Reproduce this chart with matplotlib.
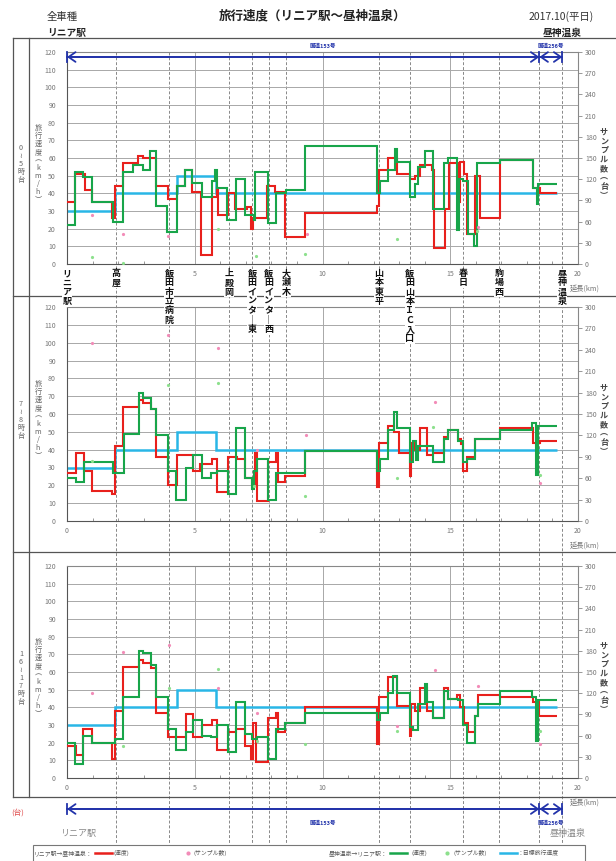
import numpy as np
import matplotlib
matplotlib.use('Agg')
import matplotlib.pyplot as plt
from matplotlib.lines import Line2D
from matplotlib.patches import Rectangle
from matplotlib.transforms import blended_transform_factory

plt.rcParams['font.family'] = ['Noto Sans CJK JP', 'DejaVu Sans']

# 交差点・バス停（km）
station_km = [0, 1.92, 4.00, 6.35, 7.25, 7.89, 8.57, 12.21, 13.42, 15.51, 16.92, 19.39]
station_names = ['リニア駅', '高屋', '飯田市立病院', '上殿岡', '飯田インター東', '飯田インター西',
                 '大瀬木', '山本東平', '飯田山本ＩＣ入口', '春日', '駒場西', '昼神温泉']
route_km = [0, 18.49, 19.39]
route_names = ['国道153号', '国道256号']
route_label_km = [10.0, 18.94]
hour_labels = ['0〜5時台', '7〜8時台', '16〜17時台']

# 目標旅行速度
target_edges = [0, 1.88, 4.29, 5.83, 19.17]
target_vals = [30, 40, 50, 40]

# リニア駅→昼神温泉 (速度)
red1_edges = [0, 0.31, 0.72, 0.97, 1.75, 1.88, 2.20, 2.79, 2.99, 3.48, 3.97, 4.29, 4.62, 4.88, 5.24, 5.66,
              5.86, 5.92, 6.31, 6.57, 7.03, 7.19, 7.27, 7.81, 8.14, 8.53, 9.32, 12.12, 12.21, 12.58, 12.90,
              13.42, 13.62, 13.82, 14.27, 14.36, 14.79, 14.96, 15.32, 15.38, 15.54, 15.64, 15.97, 16.16,
              16.95, 18.25, 18.51, 19.17]
red1_vals = [35, 51, 42, 35, 26, 44, 57, 61, 60, 44, 37, 44, 53, 41, 5, 38, 43, 28, 40, 31, 32, 20, 26, 44,
             41, 15, 29, 33, 53, 60, 51, 48, 50, 56, 53, 9, 31, 57, 35, 58, 51, 17, 50, 26, 59, 43, 40]
red2_edges = [0, 0.35, 0.67, 0.97, 1.75, 1.88, 2.20, 2.83, 2.96, 3.27, 3.47, 3.97, 4.29, 4.92, 5.20, 5.66,
              5.86, 6.31, 6.64, 6.97, 7.23, 7.37, 7.42, 7.88, 8.18, 8.27, 8.53, 9.32, 12.15, 12.22, 12.58,
              12.80, 12.99, 13.42, 13.46, 13.62, 13.82, 14.08, 14.34, 14.76, 14.90, 15.29, 15.41, 15.51,
              15.64, 15.97, 16.95, 18.25, 18.51, 19.17]
red2_vals = [27, 38, 28, 17, 15, 42, 64, 68, 66, 63, 36, 20, 37, 28, 32, 35, 16, 36, 35, 24, 21, 38, 11, 33,
             38, 22, 25, 39, 19, 44, 53, 50, 38, 25, 44, 40, 52, 37, 38, 47, 51, 46, 43, 28, 36, 46, 52,
             44, 45]
red3_edges = [0, 0.35, 0.64, 0.97, 1.75, 1.88, 2.20, 2.83, 2.96, 3.27, 3.48, 3.94, 4.64, 4.92, 5.27, 5.66,
              5.86, 6.31, 6.60, 6.97, 7.19, 7.27, 7.40, 7.88, 8.18, 8.27, 8.53, 9.32, 12.15, 12.21, 12.58,
              12.80, 12.93, 13.42, 13.46, 13.62, 13.82, 14.10, 14.34, 14.76, 14.92, 15.25, 15.38, 15.54,
              15.71, 15.97, 16.10, 16.95, 18.25, 18.49, 19.17]
red3_vals = [18, 13, 28, 20, 11, 38, 63, 67, 65, 62, 37, 23, 36, 23, 30, 33, 16, 26, 28, 18, 11, 31, 9, 34,
             37, 26, 31, 40, 19, 46, 57, 57, 41, 24, 42, 38, 51, 38, 34, 51, 45, 47, 40, 31, 26, 35, 47,
             46, 43, 35]

# 昼神温泉→リニア駅 (速度)
green1_edges = [0, 0.31, 0.64, 0.97, 1.81, 2.20, 2.60, 2.96, 3.25, 3.48, 3.90, 4.29, 4.62, 4.88, 5.27,
                5.66, 5.79, 5.86, 6.25, 6.60, 6.97, 7.30, 7.36, 7.85, 8.18, 8.57, 9.31, 12.15, 12.25, 12.58,
                12.84, 12.93, 13.42, 13.62, 13.75, 14.01, 14.34, 14.76, 14.90, 15.28, 15.33, 15.51, 15.71,
                15.93, 16.03, 16.95, 18.25, 18.38, 18.45, 19.17]
green1_vals = [22, 52, 49, 35, 24, 52, 56, 53, 64, 33, 18, 44, 53, 46, 38, 47, 53, 43, 25, 48, 28, 25, 52,
               23, 40, 42, 67, 40, 47, 53, 65, 58, 38, 45, 55, 64, 31, 57, 60, 19, 48, 47, 17, 10, 57, 59,
               43, 34, 45]
green2_edges = [0, 0.35, 0.67, 1.81, 2.23, 2.83, 2.96, 3.27, 3.48, 3.94, 4.26, 4.64, 4.92, 5.27, 5.62,
                5.86, 6.31, 6.60, 6.97, 7.23, 7.30, 7.42, 7.88, 8.18, 8.53, 9.32, 12.15, 12.25, 12.58, 12.80,
                12.93, 13.42, 13.53, 13.66, 13.75, 14.34, 14.76, 14.90, 15.29, 15.51, 15.64, 15.97, 16.95,
                18.19, 18.36, 18.45, 19.17]
green2_vals = [24, 22, 33, 27, 49, 72, 69, 63, 48, 28, 12, 30, 37, 24, 27, 28, 15, 52, 24, 18, 28, 35, 12,
               27, 27, 39, 28, 35, 51, 61, 52, 33, 45, 34, 42, 33, 46, 51, 45, 33, 35, 46, 51, 55, 26, 53]
green3_edges = [0, 0.31, 0.64, 0.97, 1.88, 2.20, 2.83, 2.96, 3.29, 3.48, 3.94, 4.26, 4.64, 4.92, 5.27,
                5.62, 5.86, 6.31, 6.60, 6.97, 7.23, 7.42, 7.88, 8.18, 8.53, 9.32, 12.15, 12.25, 12.58, 12.77,
                12.93, 13.42, 13.55, 13.75, 14.01, 14.08, 14.34, 14.76, 14.92, 15.32, 15.51, 15.64, 15.97,
                16.10, 16.95, 18.19, 18.36, 18.45, 19.17]
green3_vals = [20, 8, 24, 20, 22, 46, 72, 71, 64, 46, 28, 16, 26, 33, 24, 23, 30, 15, 43, 25, 22, 23, 11,
               28, 31, 37, 33, 37, 48, 58, 48, 29, 27, 42, 53, 43, 34, 49, 45, 44, 30, 20, 35, 42, 49, 46,
               21, 44]

# サンプル数（台）
pink1_km = [0.97, 2.20, 3.97, 9.40, 16.10]
pink1_n = [70, 43, 39, 42, 53]
pink2_km = [0.97, 3.97, 5.92, 7.42, 9.36, 14.40, 18.51]
pink2_n = [250, 261, 243, 100, 120, 167, 53]
pink3_km = [0.97, 2.18, 3.99, 5.92, 7.42, 12.93, 14.40, 16.10, 18.51]
pink3_n = [120, 178, 188, 128, 92, 73, 153, 130, 48]
lg1_km = [0.97, 2.18, 5.92, 7.40, 9.32, 12.90, 16.03]
lg1_n = [10, 2, 50, 11, 14, 36, 46]
lg2_km = [0.97, 3.97, 5.92, 7.30, 9.32, 12.93, 14.34, 18.51]
lg2_n = [84, 190, 193, 49, 35, 60, 132, 64]
lg3_km = [2.18, 3.99, 5.92, 7.42, 9.32, 12.93, 18.51]
lg3_n = [45, 127, 154, 52, 48, 67, 66]

red_edges = [red1_edges, red2_edges, red3_edges]
red_vals = [red1_vals, red2_vals, red3_vals]
green_edges = [green1_edges, green2_edges, green3_edges]
green_vals = [green1_vals, green2_vals, green3_vals]
pink_km = [pink1_km, pink2_km, pink3_km]
pink_n = [pink1_n, pink2_n, pink3_n]
lg_km = [lg1_km, lg2_km, lg3_km]
lg_n = [lg1_n, lg2_n, lg3_n]

RED = '#e8201c'
GREEN = '#18a54a'
CYAN = '#29b6e6'
PINK = '#f28cb8'
LGREEN = '#8de08d'
NAVY = '#2233aa'
GRAY = '#777777'

W, H = 616, 861
fig = plt.figure(figsize=(W / 100, H / 100), dpi=100)


def fx(x):
    return x / W


def fy(y):
    return 1 - y / H


def vert(s):
    s = s.replace('ー', '｜').replace('〜', '≀').replace('(', '︵').replace(')', '︶')
    return '\n'.join(s)


# 外枠
frame_kw = dict(color='#555555', lw=0.9, transform=fig.transFigure)
for y in [38, 296, 552, 797]:
    fig.add_artist(Line2D([fx(13), 1.0], [fy(y), fy(y)], **frame_kw))
for x in [13, 29]:
    fig.add_artist(Line2D([fx(x), fx(x)], [fy(38), fy(797)], **frame_kw))

panels_px = [(52, 264), (307, 521), (566, 778)]
axes = []
for i, (top, bottom) in enumerate(panels_px):
    ax = fig.add_axes([fx(67), fy(bottom), fx(578) - fx(67), fy(top) - fy(bottom)])
    ax.patch.set_visible(False)
    ax.set_xlim(0, 20)
    ax.set_ylim(0, 120)
    ax.set_xticks([0, 5, 10, 15, 20])
    if i == 0:
        # 0 は交差点名の下に隠れる
        ax.set_xticklabels(['', '5', '10', '15', '20'])
    ax.set_xticks(np.arange(0, 21), minor=True)
    ax.set_yticks(np.arange(0, 121, 10))
    ax.grid(True, which='major', color='#a8a8a8', lw=0.7)
    ax.tick_params(axis='y', length=0, pad=8, labelsize=5, labelcolor=GRAY)
    ax.tick_params(axis='x', which='major', length=0, pad=4, labelsize=5, labelcolor=GRAY)
    ax.tick_params(axis='x', which='minor', length=2, direction='in', color='#888888')
    for sp in ax.spines.values():
        sp.set_color('#888888')
        sp.set_linewidth(0.8)
    ax.spines['left'].set_color('#555555')
    ax.spines['bottom'].set_color('#555555')

    ax.stairs(target_vals, target_edges, baseline=None, color=CYAN, lw=1.8, zorder=2)
    ax.stairs(red_vals[i], red_edges[i], baseline=None, color=RED, lw=1.5, zorder=3)
    ax.stairs(green_vals[i], green_edges[i], baseline=None, color=GREEN, lw=1.5, zorder=4)

    tw = ax.twinx()
    tw.set_ylim(0, 300)
    tw.set_yticks(np.arange(0, 301, 30))
    tw.tick_params(axis='y', length=3, width=0.6, color='#888888', pad=2, labelsize=5, labelcolor=GRAY)
    for sp in tw.spines.values():
        sp.set_visible(False)
    tw.plot(pink_km[i], pink_n[i], 'o', ms=2.3, mec='none', color=PINK)
    tw.plot(lg_km[i], lg_n[i], 'o', ms=2.3, mec='none', color=LGREEN)

    mid = (top + bottom) / 2 + 6
    fig.text(fx(21), fy(mid), vert(hour_labels[i]), ha='center', va='center', fontsize=5.2,
             color='#666666', linespacing=1.0)
    fig.text(fx(38), fy(mid), vert('旅行速度(km/h)'), ha='center', va='center', fontsize=5.2,
             color='#666666', linespacing=1.0)
    fig.text(fx(604), fy(mid), vert('サンプル数(台)'), ha='center', va='center', fontsize=5.8,
             color='#444444', fontweight='bold', linespacing=1.0)
    fig.text(fx(585), fy(bottom + 25), '延長(km)', ha='center', va='center', fontsize=5.2, color=GRAY)
    axes.append(ax)

ax1 = axes[0]
bx = blended_transform_factory(ax1.transData, fig.transFigure)

# 交差点の点線
for km in station_km[1:] + [route_km[1]]:
    fig.add_artist(Line2D([km, km], [fy(52), fy(843)], transform=bx, color='#888888', lw=0.7,
                          ls=(0, (3, 2)), zorder=-1))

# 交差点名
for km, name in zip(station_km, station_names):
    fig.text(km, fy(269), vert(name), transform=bx, ha='center', va='top', fontsize=6.5,
             fontweight='bold', color='#111111', linespacing=1.05, zorder=6,
             bbox=dict(facecolor='white', edgecolor='none', pad=0.3))

# 路線区間の矢印（上・下）
for y_px, label_y in [(57, 46), (809, 823)]:
    for k in range(len(route_names)):
        fig.add_artist(Line2D([route_km[k], route_km[k + 1]], [fy(y_px)] * 2, transform=bx, color=NAVY, lw=1.3))
        ax1.annotate('', xy=(route_km[k + 1], fy(y_px)), xytext=(route_km[k], fy(y_px)),
                     xycoords=bx, textcoords=bx, annotation_clip=False,
                     arrowprops=dict(arrowstyle='<->,head_length=0.5,head_width=0.35', color=NAVY,
                                     lw=1.3, shrinkA=0, shrinkB=0, mutation_scale=10))
        fig.text(route_label_km[k], fy(label_y), route_names[k], transform=bx, ha='center', va='center',
                 fontsize=4, color=NAVY, fontweight='bold')
    for km in route_km:
        fig.add_artist(Line2D([km, km], [fy(y_px - 5), fy(y_px + 5)], transform=bx, color=NAVY, lw=1.3))

# ヘッダ
fig.text(fx(313), fy(16), '旅行速度（リニア駅～昼神温泉）', ha='center', va='center', fontsize=9,
         fontweight='bold', color='#222222')
fig.text(fx(47), fy(17), '全車種', ha='left', va='center', fontsize=7.5, color='#333333')
fig.text(fx(594), fy(17), '2017.10(平日)', ha='right', va='center', fontsize=7.5, color='#333333')
fig.text(fx(47), fy(33), 'リニア駅', ha='left', va='center', fontsize=7, fontweight='bold', color='#222222')
fig.text(fx(582), fy(33), '昼神温泉', ha='right', va='center', fontsize=7, fontweight='bold', color='#222222')

# フッタ
fig.text(fx(18), fy(813), '(台)', ha='center', va='center', fontsize=5.5, color='#e05050')
fig.text(fx(78), fy(833), 'リニア駅', ha='center', va='center', fontsize=6.5, color='#888888')
fig.text(fx(568), fy(833), '昼神温泉', ha='center', va='center', fontsize=6.5, color='#888888')

# 凡例
fig.add_artist(Rectangle((fx(33), fy(875)), fx(585) - fx(33), fy(845) - fy(875), transform=fig.transFigure,
                         fill=False, ec='#777777', lw=0.8))
leg_y = fy(853)
leg_kw = dict(ha='left', va='center', fontsize=4.2, color='#555555')
fig.text(fx(93), leg_y, 'リニア駅→昼神温泉：', **dict(leg_kw, ha='right'))
fig.add_artist(Line2D([fx(95), fx(112)], [leg_y, leg_y], transform=fig.transFigure, color=RED, lw=1.8))
fig.text(fx(114), leg_y, '(速度)', **leg_kw)
fig.add_artist(Line2D([fx(188)], [leg_y], transform=fig.transFigure, marker='o', ms=3, mec='none', color=PINK))
fig.text(fx(193), leg_y, '(サンプル数)', **leg_kw)
fig.text(fx(388), leg_y, '昼神温泉→リニア駅：', **dict(leg_kw, ha='right'))
fig.add_artist(Line2D([fx(390), fx(407)], [leg_y, leg_y], transform=fig.transFigure, color=GREEN, lw=1.8))
fig.text(fx(412), leg_y, '(速度)', **leg_kw)
fig.add_artist(Line2D([fx(447)], [leg_y], transform=fig.transFigure, marker='o', ms=3, mec='none', color=LGREEN))
fig.text(fx(453), leg_y, '(サンプル数)', **leg_kw)
fig.add_artist(Line2D([fx(500), fx(517)], [leg_y, leg_y], transform=fig.transFigure, color=CYAN, lw=1.8))
fig.text(fx(518), leg_y, '：目標旅行速度', **leg_kw)

fig.savefig('out.png', dpi=100)
